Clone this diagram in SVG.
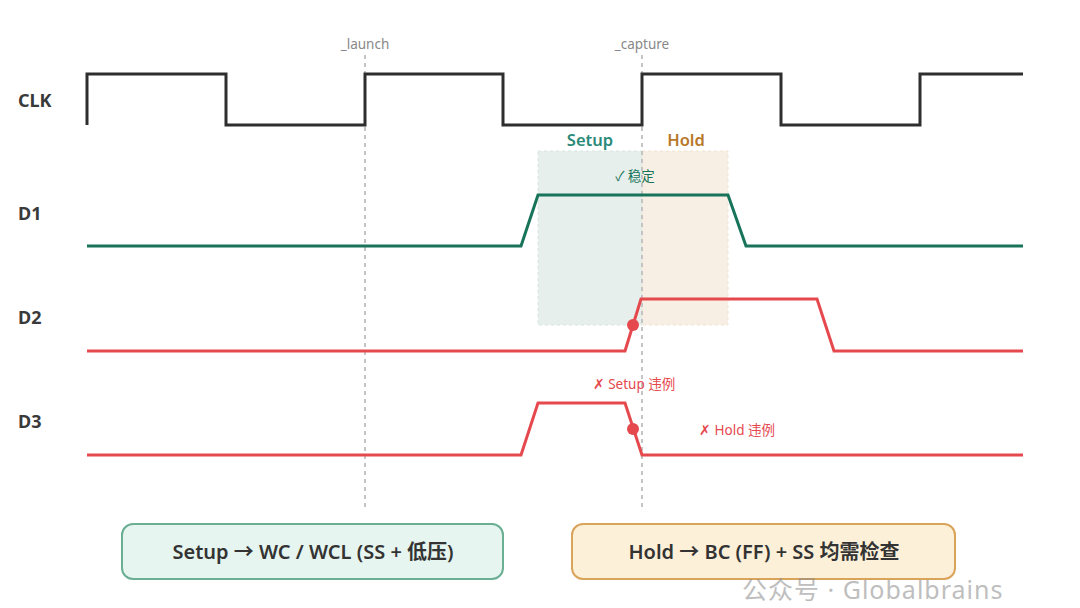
<svg xmlns="http://www.w3.org/2000/svg" width="1080" height="608" viewBox="0 0 1080 608">
<style>
text{font-family:"Noto Sans","Noto Sans CJK SC",sans-serif}
.lbl{font-size:18px;font-weight:bold;fill:#3a3a3a}
.sig{fill:none;stroke-width:3;stroke-linejoin:miter}
.guide{stroke:#c4c4c4;stroke-width:2;stroke-dasharray:4 4}
.small{font-size:13.5px;fill:#888}
.note{font-size:13.5px}
.box{stroke-width:2}
.bt{font-size:20px;font-weight:600;fill:#333;text-anchor:middle}
</style>
<rect width="1080" height="608" fill="#fff"/>
<g id="windows">
<rect x="538" y="151" width="104" height="174" fill="#e6efec" stroke="#d8e4e0" stroke-dasharray="3 3"/>
<rect x="642" y="151" width="86" height="174" fill="#f7efe4" stroke="#efe3d2" stroke-dasharray="3 3"/>
<text x="590" y="146" text-anchor="middle" font-size="16.5" font-weight="600" fill="#2a8a7a">Setup</text>
<text x="686" y="146" text-anchor="middle" font-size="16.5" font-weight="600" fill="#b8782a">Hold</text>
</g>
<g id="guides">
<line class="guide" x1="365" y1="55" x2="365" y2="508"/>
<line class="guide" x1="642" y1="55" x2="642" y2="508"/>
<text class="small" x="365" y="49" text-anchor="middle">_launch</text>
<text class="small" x="642" y="49" text-anchor="middle">_capture</text>
</g>
<g id="labels">
<text class="lbl" x="18" y="107">CLK</text>
<text class="lbl" x="18" y="220">D1</text>
<text class="lbl" x="18" y="324">D2</text>
<text class="lbl" x="18" y="428">D3</text>
</g>
<g id="clk">
<polyline class="sig" stroke="#2e2e2e" points="87,125 87,74 226,74 226,125 365,125 365,74 503,74 503,125 642,125 642,74 781,74 781,125 920,125 920,74 1023,74"/>
</g>
<g id="d1">
<polyline class="sig" stroke="#17745a" points="87,246 521,246 538,195 728,195 746,246 1023,246"/>
<text class="note" x="635" y="181" text-anchor="middle" fill="#17745a">✓ 稳定</text>
</g>
<g id="d2">
<polyline class="sig" stroke="#e5484d" points="87,351 625,351 641,299 817,299 834,351 1023,351"/>
<circle cx="633" cy="325" r="6" fill="#e5484d"/>
</g>
<g id="d3">
<polyline class="sig" stroke="#e5484d" points="87,455 521,455 538,403 625,403 642,455 1023,455"/>
<circle cx="633" cy="429" r="6" fill="#e5484d"/>
<text class="note" x="634" y="389" text-anchor="middle" fill="#e5484d">✗ Setup 违例</text>
<text class="note" x="737" y="435" text-anchor="middle" fill="#e5484d">✗ Hold 违例</text>
</g>
<g id="setup-box">
<rect class="box" x="122" y="524" width="381" height="55" rx="11" fill="#e6f5ef" stroke="#6aae94"/>
<text class="bt" x="313" y="559">Setup → WC / WCL (SS + 低压)</text>
</g>
<g id="hold-box">
<rect class="box" x="572" y="524" width="383" height="55" rx="11" fill="#fdf0d9" stroke="#d9a35a"/>
<text class="bt" x="764" y="559">Hold → BC (FF) + SS 均需检查</text>
</g>
<g id="watermark" opacity="0.55">
<text x="742" y="599" font-size="25" letter-spacing="1" fill="#8a8a8a">公众号 · Globalbrains</text>
</g>
</svg>
